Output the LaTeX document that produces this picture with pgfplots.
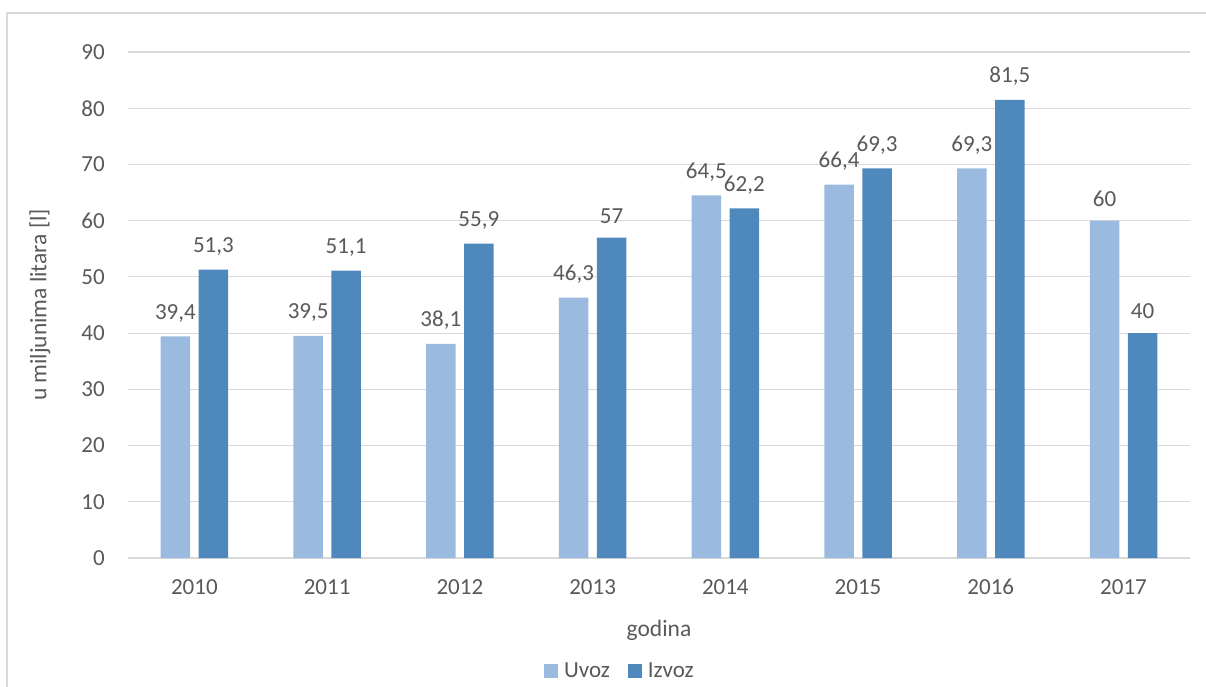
\documentclass[border=0pt]{standalone}
\usepackage{pgfplots}
\pgfplotsset{compat=1.18}
\usepackage{fontspec}
\setmainfont{Carlito}
\definecolor{uvoz}{HTML}{9BBADF}
\definecolor{izvoz}{HTML}{4F88BD}
\definecolor{txt}{HTML}{595959}
\definecolor{grd}{HTML}{D9D9D9}
\begin{document}
\begin{tikzpicture}[font=\fontsize{23}{28}\selectfont]
\useasboundingbox (0,0) rectangle (1206pt,686pt);
\draw[grd, line width=1.5pt] (7pt,-20pt) rectangle (1240pt,673pt);
\begin{axis}[
  at={(128pt,128pt)}, anchor=south west,
  scale only axis, width=1062pt, height=506pt,
  xmin=-0.5, xmax=7.5, ymin=0, ymax=90,
  xtick={0,...,7},
  xticklabels={2010,2011,2012,2013,2014,2015,2016,2017},
  ytick={0,10,...,90},
  ymajorgrids, grid style={grd, line width=1.2pt},
  axis line style={draw=none},
  major tick length=0pt,
  /pgf/number format/assume math mode=true,
  tick label style={text=txt, inner sep=0pt, font=\fontsize{23}{28}\selectfont},
  xticklabel style={anchor=north},
  yticklabel style={anchor=east},
  xticklabel shift=21pt,
  yticklabel shift=23pt,
  xlabel={godina},
  ylabel={u miljunima litara [l]},
  every axis x label/.style={at={(axis description cs:0.5,-0.1423)}, anchor=center, text=txt, font=\fontsize{23.5}{28}\selectfont},
  every axis y label/.style={at={(axis description cs:-0.0829,0.5)}, rotate=90, anchor=center, text=txt, font=\fontsize{23.5}{28}\selectfont},
  legend columns=2,
  legend style={at={(0.4623,-0.2233)}, anchor=center, draw=none, fill=none,
    nodes={inner sep=0pt, text=txt, font=\fontsize{23}{28}\selectfont},
    column sep=6pt,
    /tikz/every even column/.append style={column sep=18pt}},
  legend image code/.code={\fill[#1] (0pt,-7pt) rectangle (14pt,7pt);},
  lbl/.style={
    nodes near coords={\pgfmathprintnumber[use comma,assume math mode=true]{\pgfplotspointmeta}},
    nodes near coords align={center},
    every node near coord/.style={anchor=south, yshift=14pt, inner sep=0pt, text=txt, font=\fontsize{23}{28}\selectfont}},
]
\addplot[ybar, bar width=29.5pt, bar shift=0pt, fill=uvoz, draw=none, lbl]
  coordinates {(-0.1431,39.4) (0.8569,39.5) (1.8569,38.1) (2.8569,46.3) (3.8569,64.5) (4.8569,66.4) (5.8569,69.3) (6.8569,60)};
\addlegendentry{Uvoz}
\addplot[ybar, bar width=29.5pt, bar shift=0pt, fill=izvoz, draw=none, lbl]
  coordinates {(0.1431,51.3) (1.1431,51.1) (2.1431,55.9) (3.1431,57) (4.1431,62.2) (5.1431,69.3) (6.1431,81.5) (7.1431,40)};
\addlegendentry{Izvoz}
\end{axis}
\end{tikzpicture}
\end{document}
